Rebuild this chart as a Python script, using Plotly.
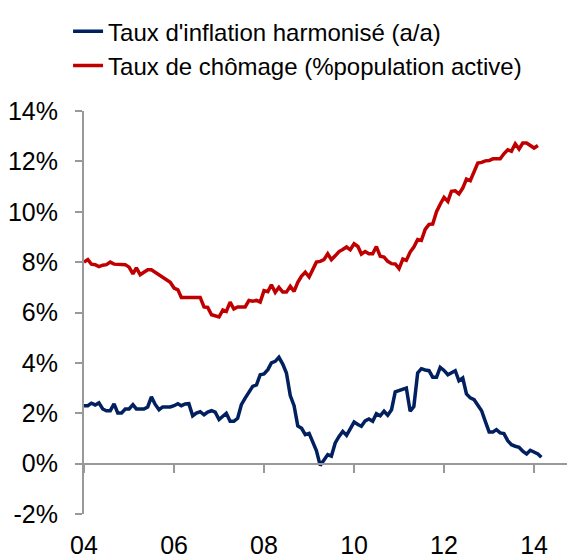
import pandas as pd
import plotly.graph_objects as go

# Monthly data, Jan 2004 onward
inflation = [2.30, 2.30, 2.40, 2.33, 2.41, 2.17, 2.10, 2.10, 2.37, 2.01,
             2.01, 2.17, 2.17, 2.34, 2.17, 2.17, 2.17, 2.25, 2.65, 2.35,
             2.14, 2.25, 2.25, 2.25, 2.30, 2.38, 2.30, 2.37, 2.38, 1.90,
             2.01, 2.06, 1.94, 2.05, 2.10, 2.04, 1.75, 1.90, 2.00, 1.68,
             1.68, 1.80, 2.34, 2.60, 2.85, 3.07, 3.13, 3.53, 3.56, 3.73,
             4.00, 4.06, 4.22, 3.95, 3.60, 2.70, 2.30, 1.50, 1.40, 1.15,
             1.20, 0.80, 0.52, -0.07, 0.16, 0.36, 0.30, 0.82, 1.08, 1.28,
             1.12, 1.40, 1.65, 1.55, 1.48, 1.70, 1.77, 1.68, 1.98, 1.90,
             2.08, 1.92, 2.14, 2.85, 2.90, 2.94, 3.00, 2.08, 2.27, 3.60,
             3.77, 3.72, 3.69, 3.43, 3.43, 3.82, 3.70, 3.53, 3.60, 3.69,
             3.29, 3.40, 2.77, 2.61, 2.54, 2.31, 2.10, 1.68, 1.26, 1.26,
             1.35, 1.22, 1.19, 0.91, 0.75, 0.69, 0.65, 0.49, 0.38, 0.53,
             0.45, 0.38, 0.25]

unemployment = [8.00, 8.10, 7.92, 7.90, 7.82, 7.88, 7.90, 8.00, 7.92, 7.92,
                7.92, 7.90, 7.80, 7.53, 7.77, 7.50, 7.60, 7.70, 7.70, 7.60,
                7.50, 7.40, 7.33, 7.20, 6.97, 6.90, 6.60, 6.60, 6.60, 6.60,
                6.60, 6.60, 6.22, 6.20, 5.91, 5.85, 5.82, 6.10, 6.04, 6.41,
                6.14, 6.22, 6.22, 6.22, 6.48, 6.45, 6.48, 6.41, 6.87, 6.83,
                7.10, 6.80, 7.00, 6.81, 6.81, 7.04, 6.84, 7.20, 7.45, 7.60,
                7.41, 7.70, 8.00, 8.03, 8.10, 8.33, 8.10, 8.25, 8.42, 8.50,
                8.60, 8.49, 8.73, 8.62, 8.32, 8.42, 8.33, 8.33, 8.62, 8.23,
                8.20, 8.03, 7.94, 7.93, 7.74, 8.12, 8.07, 8.40, 8.60, 8.90,
                8.86, 9.30, 9.50, 9.51, 10.00, 10.30, 10.57, 10.41, 10.81, 10.83,
                10.71, 10.94, 11.30, 11.23, 11.56, 11.93, 11.96, 12.02, 12.03, 12.10,
                12.10, 12.10, 12.30, 12.46, 12.40, 12.70, 12.49, 12.73, 12.73, 12.63,
                12.53, 12.63]

series_names = ["Taux d'inflation harmonisé (a/a)",
                "Taux de chômage (%population active)"]

x_tick_dates = ["2004-01-01", "2006-01-01", "2008-01-01", "2010-01-01",
                "2012-01-01", "2014-01-01"]
x_tick_labels = ["04", "06", "08", "10", "12", "14"]
y_tick_vals = [-2, 0, 2, 4, 6, 8, 10, 12, 14]
y_tick_labels = ["-2%", "0%", "2%", "4%", "6%", "8%", "10%", "12%", "14%"]

dates_infl = pd.date_range("2004-01-01", periods=len(inflation), freq="MS")
dates_unemp = pd.date_range("2004-01-01", periods=len(unemployment), freq="MS")

FONT = "Liberation Sans, Arial, sans-serif"
GRAY = "#999999"
x_range = ["2004-01-01", "2014-09-25"]

fig = go.Figure()
fig.add_trace(go.Scatter(x=dates_infl, y=inflation, mode="lines",
                         name=series_names[0], xaxis="x2",
                         line=dict(color="#002060", width=3.5),
                         legendgroup="a"))
fig.add_trace(go.Scatter(x=dates_unemp, y=unemployment, mode="lines",
                         name=series_names[1],
                         line=dict(color="#C00000", width=3.5),
                         legendgroup="b"))

fig.update_layout(
    width=572, height=546,
    margin=dict(l=76, r=13, t=103, b=40, autoexpand=False),
    paper_bgcolor="white", plot_bgcolor="white",
    font=dict(family=FONT, size=25, color="black"),
    showlegend=True,
    legend=dict(x=-0.033, y=1.2526, xanchor="left", yanchor="top",
                font=dict(family=FONT, size=24, color="black"),
                tracegroupgap=24, traceorder="normal",
                bgcolor="rgba(0,0,0,0)"),
    xaxis=dict(type="date", range=x_range, tickvals=x_tick_dates,
               ticktext=x_tick_labels, showline=False, showgrid=False,
               zeroline=False, ticks="", ticklabelstandoff=14,
               tickfont=dict(family=FONT, size=25, color="black")),
    xaxis2=dict(type="date", range=x_range, tickvals=x_tick_dates,
                overlaying="x", anchor="free", position=0.125,
                showline=True, linecolor=GRAY, linewidth=2,
                ticks="outside", ticklen=8, tickwidth=2, tickcolor=GRAY,
                showticklabels=False, showgrid=False, zeroline=False),
    yaxis=dict(range=[-2, 14], tickvals=y_tick_vals, ticktext=y_tick_labels,
               showline=True, linecolor=GRAY, linewidth=2,
               ticks="outside", ticklen=7, tickwidth=2, tickcolor=GRAY,
               showgrid=False, zeroline=False, ticklabelstandoff=12,
               tickfont=dict(family=FONT, size=25, color="black")),
)

fig.write_html("out.html")
